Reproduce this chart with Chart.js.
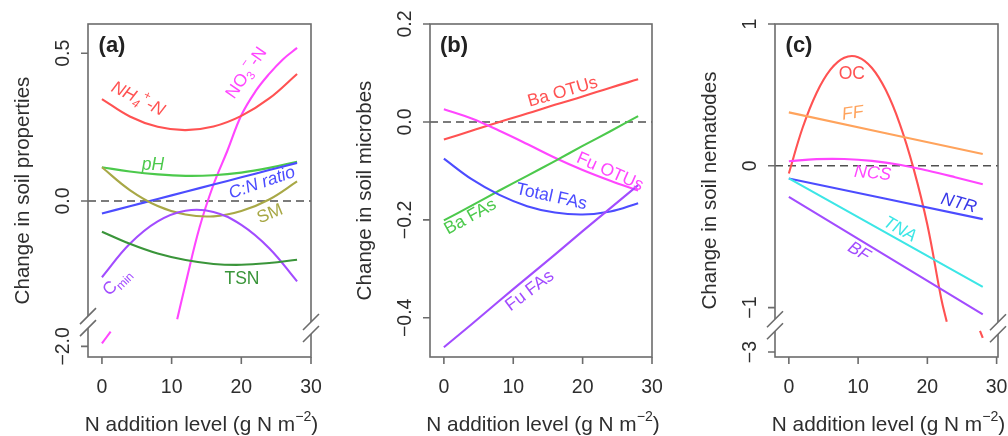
<!DOCTYPE html>
<html><head><meta charset="utf-8">
<script src="https://cdn.jsdelivr.net/npm/chart.js@4.4.1/dist/chart.umd.min.js"></script>
<style>
html,body{margin:0;padding:0;background:#fff;}
#wrap{position:relative;width:1008px;height:436px;overflow:hidden;background:#fff}
#wrap canvas{position:absolute;left:0;top:0}
</style></head><body>
<div id="wrap">
<canvas id="pa" width="1008" height="436"></canvas>
<canvas id="pb" width="1008" height="436"></canvas>
<canvas id="pc" width="1008" height="436"></canvas>
</div>
<script>
// ---------------- DATA ----------------
const xTickValues = [0, 10, 20, 30];

// Panel (a): soil properties
const aLevels = [0, 4, 8, 12, 16, 20, 24, 28];
const aNH4  = [0.345, 0.286, 0.251, 0.240, 0.252, 0.288, 0.347, 0.430];
const aPH   = [0.114, 0.100, 0.090, 0.085, 0.087, 0.096, 0.112, 0.133];
const aCN   = [-0.042, -0.018, 0.007, 0.031, 0.056, 0.080, 0.105, 0.129];
const aSM   = [0.114, 0.037, -0.017, -0.046, -0.052, -0.034, 0.005, 0.066];
const aCmin = [-0.258, -0.145, -0.069, -0.033, -0.037, -0.081, -0.160, -0.272];
const aTSN  = [-0.104, -0.145, -0.178, -0.200, -0.213, -0.216, -0.210, -0.199];
const aNO3Levels = [0, 1.25, 6, 10.8, 12, 14, 16, 18, 20, 22, 24, 26, 28];
const aNO3  = [-1.99, -1.95, null, -0.40, -0.28, -0.09, 0.055, 0.17, 0.29, 0.37, 0.43, 0.48, 0.518];
const aYTicks = [0.5, 0.0, -2.0];
const aYTickLabels = ['0.5', '0.0', '\u22122.0'];

// Panel (b): soil microbes
const bLevels = [0, 4, 8, 12, 16, 20, 24, 28];
const bBaOTU  = [-0.036, -0.018, 0.000, 0.017, 0.035, 0.052, 0.070, 0.087];
const bFuOTU  = [0.026, 0.007, -0.018, -0.045, -0.073, -0.098, -0.120, -0.140];
const bBaFA   = [-0.201, -0.171, -0.140, -0.110, -0.080, -0.049, -0.019, 0.012];
const bTotFA  = [-0.075, -0.117, -0.149, -0.172, -0.185, -0.189, -0.183, -0.166];
const bFuFA   = [-0.460, -0.413, -0.365, -0.318, -0.271, -0.223, -0.176, -0.129];
const bYTicks = [0.2, 0.0, -0.2, -0.4];
const bYTickLabels = ['0.2', '0.0', '\u22120.2', '\u22120.4'];

// Panel (c): soil nematodes
const cLevels = [0, 28];
const cFF  = [0.377, 0.083];
const cNTR = [-0.089, -0.376];
const cTNA = [-0.089, -0.854];
const cBF  = [-0.219, -1.047];
const cNCSLevels = [0, 4, 8, 12, 16, 20, 24, 28];
const cNCS = [0.032, 0.047, 0.048, 0.035, 0.008, -0.033, -0.080, -0.130];
const cOCLevels = [0, 2, 4, 6, 8, 10, 12, 14, 16, 18, 20, 22, 22.8, 25, 27.6, 28];
const cOC  = [-0.054, 0.270, 0.514, 0.678, 0.762, 0.766, 0.690, 0.534, 0.298, -0.018, -0.416, -0.935, -1.10, null, -2.85, -2.90];
const cYTicks = [1, 0, -1, -3];
const cYTickLabels = ['1', '0', '\u22121', '\u22123'];

// ---------------- STYLE ----------------
const FONT = '"Liberation Sans", Arial, Helvetica, sans-serif';
const AXIS = '#6c6c6c';
const TXT = '#2e2e2e';
const C = {
  red: '#ff5252', magenta: '#ff46ff', green: '#4cc94c', blue: '#4c4cff',
  olive: '#a8a846', purple: '#a24cff', dkgreen: '#3a953a', orange: '#ffa35c', cyan: '#3ce6e6'
};

// broken-axis transforms (real value -> display value)
const tfA = v => (v < -1 ? v + 1.508 : v);
const tfB = v => v;
const tfC = v => (v < -2 ? v + 1.687 : v);

function drawRich(ctx, segs, x, y, rot, size, style, color) {
  ctx.save();
  ctx.translate(x, y);
  ctx.rotate(rot * Math.PI / 180);
  ctx.fillStyle = color;
  ctx.textBaseline = 'middle';
  ctx.textAlign = 'left';
  let w = 0;
  for (const s of segs) {
    ctx.font = `${style} ${s.k ? size * 0.68 : size}px ${FONT}`;
    w += ctx.measureText(s.t).width;
  }
  let cx = -w / 2;
  for (const s of segs) {
    ctx.font = `${style} ${s.k ? size * 0.68 : size}px ${FONT}`;
    const dy = s.k === 'sub' ? size * 0.32 : (s.k === 'sup' ? -size * 0.4 : 0);
    ctx.fillText(s.t, cx, dy);
    cx += ctx.measureText(s.t).width;
  }
  ctx.restore();
}

const framePlugin = {
  id: 'frame',
  beforeDatasetsDraw(chart, args, o) {
    const ctx = chart.ctx, ca = chart.chartArea, y = chart.scales.y;
    const y0 = y.getPixelForValue(0);
    ctx.save();
    ctx.strokeStyle = '#505050'; ctx.lineWidth = 1.6; ctx.setLineDash([8, 5]);
    ctx.beginPath(); ctx.moveTo(ca.left, y0); ctx.lineTo(ca.right, y0); ctx.stroke();
    ctx.restore();
  },
  afterDatasetsDraw(chart, args, o) {
    const ctx = chart.ctx, ca = chart.chartArea, x = chart.scales.x, y = chart.scales.y;
    ctx.save();
    for (const L of o.labels) {
      drawRich(ctx, L.segs, x.getPixelForValue(L.x), y.getPixelForValue(L.y), L.rot || 0, 17.5, L.style || 'normal', L.color);
    }
    ctx.strokeStyle = AXIS; ctx.lineWidth = 1.6; ctx.setLineDash([]);
    ctx.strokeRect(ca.left, ca.top, ca.right - ca.left, ca.bottom - ca.top);
    ctx.beginPath();
    for (const t of o.xTicks) { const px = x.getPixelForValue(t); ctx.moveTo(px, ca.bottom); ctx.lineTo(px, ca.bottom + 7); }
    for (const t of o.yTicks) { const py = y.getPixelForValue(t); ctx.moveTo(ca.left, py); ctx.lineTo(ca.left - 7, py); }
    ctx.stroke();
    // breaks
    for (const b of o.breaks) {
      const bx = b.side === 'left' ? ca.left : ca.right;
      const cy = y.getPixelForValue(b.y);
      ctx.fillStyle = '#fff';
      ctx.beginPath();
      ctx.moveTo(bx - 8, cy + 2); ctx.lineTo(bx + 8, cy - 14);
      ctx.lineTo(bx + 8, cy - 2); ctx.lineTo(bx - 8, cy + 14); ctx.closePath(); ctx.fill();
      ctx.beginPath();
      ctx.moveTo(bx - 8, cy + 2); ctx.lineTo(bx + 8, cy - 14);
      ctx.moveTo(bx - 8, cy + 14); ctx.lineTo(bx + 8, cy - 2);
      ctx.stroke();
    }
    // tick labels
    ctx.fillStyle = TXT; ctx.font = `19.5px ${FONT}`; ctx.textAlign = 'center'; ctx.textBaseline = 'middle';
    o.xTicks.forEach(t => ctx.fillText(String(t), x.getPixelForValue(t), ca.bottom + 31));
    o.yTicks.forEach((t, i) => {
      ctx.save(); ctx.translate(ca.left - 24.5, y.getPixelForValue(t)); ctx.rotate(-Math.PI / 2);
      ctx.fillText(o.yTickLabels[i], 0, 0); ctx.restore();
    });
    drawRich(ctx, [{t: 'N addition level (g N m'}, {t: '\u22122', k: 'sup'}, {t: ')'}], (ca.left + ca.right) / 2 + 2, ca.bottom + 68, 0, 20.8, 'normal', TXT);
    drawRich(ctx, [{t: o.yTitle}], ca.left - 65, (ca.top + ca.bottom) / 2, -90, 20.6, 'normal', TXT);
    drawRich(ctx, [{t: o.panel}], ca.left + 24, ca.top + 21.5, 0, 22, 'bold', '#222');
    ctx.restore();
  }
};

function buildPanel(id, p) {
  const datasets = p.series.map(s => ({
    data: s.x.map((xv, i) => ({ x: xv, y: s.y[i] === null ? null : p.tf(s.y[i]) })),
    borderColor: s.color, borderWidth: 2.1, pointRadius: 0, tension: 0.4,
    fill: false, spanGaps: false
  }));
  return new Chart(document.getElementById(id), {
    type: 'line',
    data: { datasets },
    options: {
      responsive: false, animation: false, devicePixelRatio: 1,
      layout: { padding: p.pad },
      plugins: { legend: { display: false }, tooltip: { enabled: false }, frame: p.frame },
      scales: {
        x: { type: 'linear', min: p.xMin, max: p.xMax, display: false },
        y: { type: 'linear', min: p.yMin, max: p.yMax, display: false }
      }
    },
    plugins: [framePlugin]
  });
}

buildPanel('pa', {
  tf: tfA, pad: { left: 88, top: 24, right: 697, bottom: 79 },
  xMin: -2, xMax: 30, yMin: -0.528, yMax: 0.599,
  series: [
    { x: aLevels, y: aTSN, color: C.dkgreen },
    { x: aLevels, y: aCmin, color: C.purple },
    { x: aLevels, y: aSM, color: C.olive },
    { x: aLevels, y: aCN, color: C.blue },
    { x: aLevels, y: aPH, color: C.green },
    { x: aLevels, y: aNH4, color: C.red },
    { x: aNO3Levels, y: aNO3, color: C.magenta }
  ],
  frame: {
    xTicks: xTickValues, yTicks: aYTicks.map(tfA), yTickLabels: aYTickLabels,
    yTitle: 'Change in soil properties', panel: '(a)',
    breaks: [{ side: 'left', y: -0.41 }, { side: 'right', y: -0.43 }],
    labels: [
      { segs: [{t: 'NH'}, {t: '4', k: 'sub'}, {t: '+', k: 'sup'}, {t: '-N'}], x: 5.17, y: 0.345, rot: 26.5, style: 'italic', color: C.red },
      { segs: [{t: 'NO'}, {t: '3', k: 'sub'}, {t: '\u2212', k: 'sup'}, {t: '-N'}], x: 20.77, y: 0.433, rot: -55, color: C.magenta },
      { segs: [{t: 'pH'}], x: 7.33, y: 0.122, rot: 0, style: 'italic', color: C.green },
      { segs: [{t: 'C:N ratio'}], x: 22.97, y: 0.061, rot: -19, style: 'italic', color: C.blue },
      { segs: [{t: 'SM'}], x: 24.12, y: -0.044, rot: -22, color: C.olive },
      { segs: [{t: 'TSN'}], x: 20.1, y: -0.264, rot: 0, color: C.dkgreen },
      { segs: [{t: 'C'}, {t: 'min', k: 'sub'}], x: 2.16, y: -0.274, rot: -45, color: C.purple }
    ]
  }
});

buildPanel('pb', {
  tf: tfB, pad: { left: 430, top: 24, right: 356, bottom: 79 },
  xMin: -2, xMax: 30, yMin: -0.48, yMax: 0.2,
  series: [
    { x: bLevels, y: bFuFA, color: C.purple },
    { x: bLevels, y: bTotFA, color: C.blue },
    { x: bLevels, y: bBaFA, color: C.green },
    { x: bLevels, y: bFuOTU, color: C.magenta },
    { x: bLevels, y: bBaOTU, color: C.red }
  ],
  frame: {
    xTicks: xTickValues, yTicks: bYTicks, yTickLabels: bYTickLabels,
    yTitle: 'Change in soil microbes', panel: '(b)', breaks: [],
    labels: [
      { segs: [{t: 'Ba OTUs'}], x: 17.15, y: 0.061, rot: -16, color: C.red },
      { segs: [{t: 'Fu OTUs'}], x: 23.94, y: -0.102, rot: 24, color: C.magenta },
      { segs: [{t: 'Total FAs'}], x: 15.52, y: -0.153, rot: 12.5, color: C.blue },
      { segs: [{t: 'Ba FAs'}], x: 3.83, y: -0.194, rot: -29, color: C.green },
      { segs: [{t: 'Fu FAs'}], x: 12.39, y: -0.345, rot: -37, color: C.purple }
    ]
  }
});

buildPanel('pc', {
  tf: tfC, pad: { left: 775, top: 24, right: 10, bottom: 79 },
  xMin: -2, xMax: 30.2, yMin: -1.348, yMax: 1,
  series: [
    { x: cLevels, y: cBF, color: C.purple },
    { x: cLevels, y: cTNA, color: C.cyan },
    { x: cLevels, y: cNTR, color: C.blue },
    { x: cNCSLevels, y: cNCS, color: C.magenta },
    { x: cLevels, y: cFF, color: C.orange },
    { x: cOCLevels, y: cOC, color: C.red }
  ],
  frame: {
    xTicks: xTickValues, yTicks: cYTicks.map(tfC), yTickLabels: cYTickLabels,
    yTitle: 'Change in soil nematodes', panel: '(c)',
    breaks: [{ side: 'left', y: -1.124 }, { side: 'right', y: -1.145 }],
    labels: [
      { segs: [{t: 'OC'}], x: 9.10, y: 0.647, rot: 0, color: C.red },
      { segs: [{t: 'FF'}], x: 9.22, y: 0.370, rot: -8, style: 'italic', color: C.orange },
      { segs: [{t: 'NCS'}], x: 12.10, y: -0.054, rot: 5, style: 'italic', color: C.magenta },
      { segs: [{t: 'NTR'}], x: 24.53, y: -0.265, rot: 15, style: 'italic', color: '#3838e8' },
      { segs: [{t: 'TNA'}], x: 16.02, y: -0.449, rot: 29, style: 'italic', color: C.cyan },
      { segs: [{t: 'BF'}], x: 10.11, y: -0.607, rot: 31, style: 'italic', color: C.purple }
    ]
  }
});
</script>
</body></html>
